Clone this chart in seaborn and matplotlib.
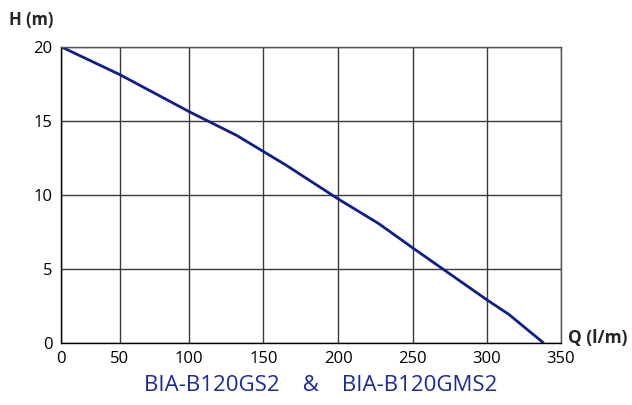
import matplotlib.pyplot as plt
import numpy as np
import pandas as pd
import seaborn as sns

# pump curve
flow = [0, 50, 100, 132, 165, 200, 227, 250, 300, 315, 338]
head = [20, 18.1, 15.6, 14.0, 12.0, 9.7, 8.05, 6.4, 2.9, 1.9, 0]
x_ticks = [0, 50, 100, 150, 200, 250, 300, 350]
y_ticks = [0, 5, 10, 15, 20]

# the original grid is not evenly spaced: first two columns are narrower
grid_pos = [0, 59.3, 128.6, 202.6, 277.6, 352.0, 426.0, 500.3]


def fwd(q):
    return np.interp(q, x_ticks, grid_pos)


def inv(p):
    return np.interp(p, grid_pos, x_ticks)


sns.set_style("white")
plt.rcParams["font.family"] = ["Open Sans", "DejaVu Sans"]

df = pd.DataFrame({"Q": flow, "H": head})

fig = plt.figure(figsize=(6.32, 4.05), dpi=100)
ax = fig.add_axes([0.0960, 0.154, 0.7917, 0.731])
ax.set_xscale("function", functions=(fwd, inv))
sns.lineplot(data=df, x="Q", y="H", ax=ax, color="#0d1f8c", linewidth=2.0, sort=False)

ax.set_xlim(0, 350)
ax.set_ylim(0, 20)
ax.set_xticks(x_ticks)
ax.set_xticklabels([str(t) for t in x_ticks])
ax.set_xticks([], minor=True)
ax.set_yticks(y_ticks)
ax.grid(True, color="#3a3a3a", linewidth=1)
ax.set_axisbelow(True)
for s in ax.spines.values():
    s.set_color("#555555")
    s.set_linewidth(1)
ax.spines["left"].set_color("black")
ax.spines["bottom"].set_color("black")
ax.tick_params(axis="both", labelsize=12, length=3, color="black", labelcolor="black", pad=3)
ax.set_xlabel("")
ax.set_ylabel("")

fig.text(0.014, 0.951, "H (m)", fontsize=12, fontweight="bold", va="center")
fig.text(0.898, 0.165, "Q (l/m)", fontsize=12.5, fontweight="bold", va="center")
fig.text(0.508, 0.049, "BIA-B120GS2    &    BIA-B120GMS2", fontsize=16, color="#1a2a9a",
         ha="center", va="center")

fig.savefig("out.png", dpi=100)
